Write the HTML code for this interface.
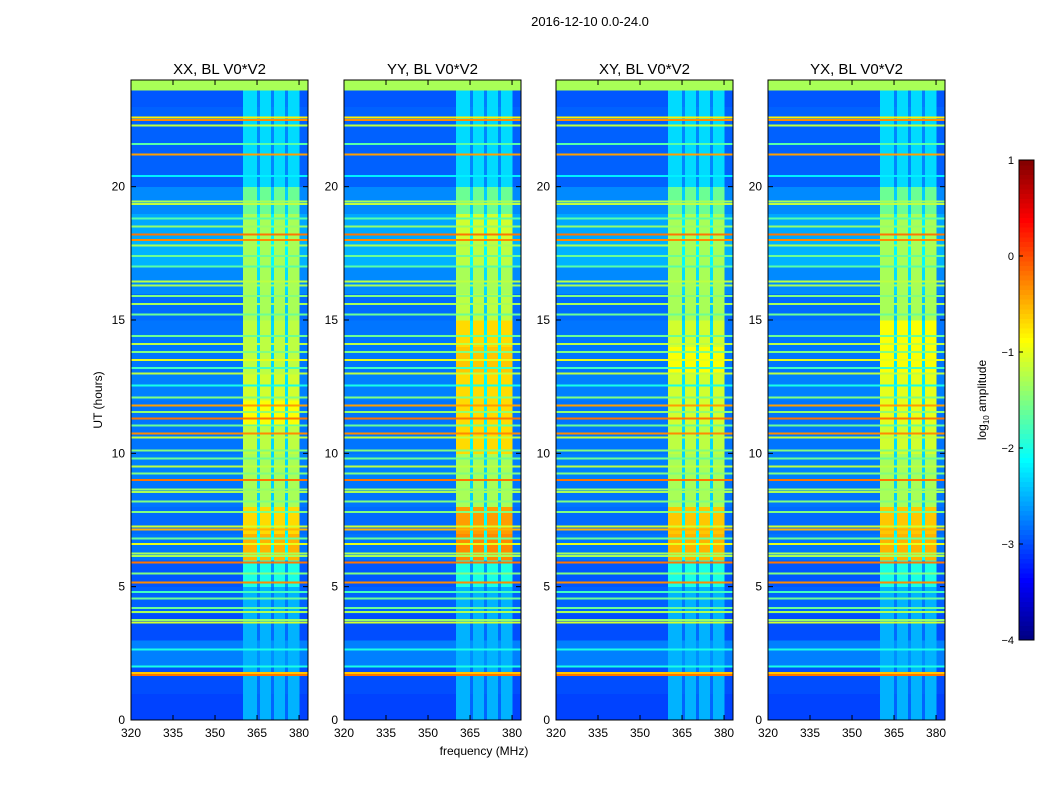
<!DOCTYPE html>
<html><head><meta charset="utf-8"><style>
body{margin:0;background:#fff;}
svg{display:block;font-family:"Liberation Sans",sans-serif;}
</style></head><body>
<svg id="chart" width="1050" height="800">
<text x="590" y="26" font-size="13" text-anchor="middle">2016-12-10 0.0-24.0</text>
</svg>
<script>
// ---- data ----
const panelTitles = ["XX, BL V0*V2","YY, BL V0*V2","XY, BL V0*V2","YX, BL V0*V2"];
const xTicks = [320,335,350,365,380];
const yTicks = [0,5,10,15,20];
const cbTicks = [1,0,-1,-2,-3,-4];
// background log10 amplitude per hour (0..24 h)
const baseHours = [-3.05,-3.0,-2.75,-3.0,-2.9,-2.95,-2.8,-2.85,-2.8,-2.75,-2.8,-2.8,-2.75,-2.8,-2.8,-2.85,-2.7,-2.5,-2.55,-2.7,-2.9,-2.9,-2.9,-2.95];
// narrow RFI lines: hour and level
const lineHours  = [1.68,1.76,2.0,2.65,3.65,3.75,4.05,4.2,4.55,4.8,5.15,5.5,5.9,6.15,6.25,6.6,6.8,7.15,7.25,7.8,8.2,8.55,8.65,9.0,9.25,9.5,9.8,10.1,10.6,10.75,11.05,11.3,11.55,11.8,12.1,12.55,13.0,13.2,13.5,13.8,14.1,14.4,15.2,15.6,15.9,16.3,16.45,17.0,17.4,17.8,18.0,18.2,18.5,18.8,19.35,19.45,20.4,21.2,21.6,22.3,22.5,22.6,23.8,23.9];
const lineValues = [-0.2,-0.6,-2.0,-2.0,-1.1,-1.4,-1.3,-1.6,-1.6,-1.8,-0.3,-1.5,-0.2,-1.3,-1.3,-1.0,-1.6,-0.5,-1.1,-1.5,-1.5,-1.3,-1.4,-0.2,-1.5,-1.2,-1.6,-1.5,-1.2,-0.3,-1.6,-0.2,-1.4,-0.4,-1.5,-2.0,-1.2,-1.8,-1.0,-1.5,-1.2,-1.6,-1.6,-1.3,-1.5,-1.3,-1.2,-1.7,-1.6,-1.3,-0.3,-0.2,-1.4,-1.7,-1.2,-1.3,-2.2,-0.4,-1.7,-1.2,-0.3,-0.8,-1.3,-1.3];
// band (360-380 MHz) intensity per hour, per polarisation
const bandXX = [-2.5,-2.5,-2.5,-2.5,-2.5,-2.0,-0.5,-0.7,-1.3,-1.3,-1.2,-0.9,-1.1,-1.2,-1.2,-1.3,-1.3,-1.3,-1.3,-1.6,-2.3,-2.3,-2.3,-2.3];
const bandYY = [-2.5,-2.5,-2.5,-2.5,-2.5,-2.0,-0.3,-0.4,-1.3,-1.3,-0.7,-0.7,-0.7,-0.6,-0.7,-1.2,-1.3,-1.2,-1.1,-1.6,-2.3,-2.3,-2.3,-2.3];
const bandXY = [-2.5,-2.5,-2.5,-2.5,-2.5,-2.0,-0.5,-0.6,-1.3,-1.3,-1.2,-1.1,-1.1,-0.9,-1.1,-1.3,-1.3,-1.3,-1.3,-1.6,-2.3,-2.3,-2.3,-2.3];
const bandYX = [-2.5,-2.5,-2.5,-2.5,-2.5,-2.0,-0.5,-0.6,-1.3,-1.3,-1.1,-1.0,-1.0,-0.9,-0.9,-1.3,-1.3,-1.3,-1.3,-1.6,-2.3,-2.3,-2.3,-2.3];
// 1-MHz channel weights starting at 360 MHz
const bandMask = [1,1,1,1,1,0.3,1,1,1,1,0.3,1,1,1,1,0.3,1,1,1,1];
const bandStart = 360;

const NS="http://www.w3.org/2000/svg";
const svg=document.getElementById('chart');
function mk(t,a,p){const e=document.createElementNS(NS,t);for(const k in a)e.setAttribute(k,a[k]);(p||svg).appendChild(e);return e;}
function jet(v){let t=(v+4)/5;t=Math.max(0,Math.min(1,t));
 const c=x=>Math.round(255*Math.max(0,Math.min(1,x)));
 const r=c(Math.min(4*t-1.5,-4*t+4.5)),g=c(Math.min(4*t-0.5,-4*t+3.5)),b=c(Math.min(4*t+0.5,-4*t+2.5));
 return `rgb(${r},${g},${b})`;}
const panelX=[131,344,556,768], PW=177, PT=80, PB=720;
const fMin=320,fMax=383.2,tMax=24;
const bands=[bandXX,bandYY,bandXY,bandYX];
panelTitles.forEach((title,p)=>{
 const x0=panelX[p];
 const xs=f=>x0+(f-fMin)/(fMax-fMin)*PW;
 const ys=h=>PB-h/tMax*(PB-PT);
 const g=mk('g',{'shape-rendering':'crispEdges'});
 
 
 baseHours.forEach((v,i)=>{
  const r=mk('rect',{x:xs(fMin),y:ys(i+1),width:xs(fMax)-xs(fMin),height:ys(i)-ys(i+1)+0.5,fill:jet(v)},g);
  
  
 });
 const band=bands[p];
 band.forEach((b,i)=>{
  const v=baseHours[i];
  bandMask.forEach((m,j)=>{
   const val=v+m*(b-v);
   const r=mk('rect',{x:xs(bandStart+j),y:ys(i+1),width:xs(bandStart+j+1)-xs(bandStart+j)+0.3,height:ys(i)-ys(i+1)+0.5,fill:jet(val)},g);
   
   
  });
 });
 lineHours.forEach((h,k)=>{
  const l=mk('rect',{x:xs(fMin),y:ys(h)-1,width:xs(fMax)-xs(fMin),height:2,fill:jet(lineValues[k])},g);
  
  
 });
 const top=mk('rect',{x:x0,y:PT,width:PW,height:ys(23.6)-PT,fill:jet(-1.3)},g);
 
 
 const fr=mk('rect',{x:x0,y:PT,width:PW,height:PB-PT,fill:'none',stroke:'#000','stroke-width':1});
 
 
 const tt=mk('text',{x:x0+PW/2,y:PT-6,'font-size':15,'text-anchor':'middle'});tt.textContent=title;
 
 
 xTicks.forEach(f=>{const X=xs(f);mk('line',{x1:X,x2:X,y1:PB,y2:PB-5,stroke:'#000'});mk('line',{x1:X,x2:X,y1:PT,y2:PT+5,stroke:'#000'});
  const t=mk('text',{x:X,y:PB+17,'font-size':12,'text-anchor':'middle'});t.textContent=f;
  
  });
 yTicks.forEach(h=>{const Y=ys(h);mk('line',{x1:x0,x2:x0+5,y1:Y,y2:Y,stroke:'#000'});mk('line',{x1:x0+PW,x2:x0+PW-5,y1:Y,y2:Y,stroke:'#000'});
  const t=mk('text',{x:x0-6,y:Y+4,'font-size':12,'text-anchor':'end'});t.textContent=h;
  
  });
});
const xl=mk('text',{x:484,y:755,'font-size':12,'text-anchor':'middle'});xl.textContent='frequency (MHz)';


const yl=mk('text',{x:102,y:400,'font-size':12,'text-anchor':'middle',transform:'rotate(-90 102 400)'});yl.textContent='UT (hours)';


// colorbar
const cbX=1019,cbW=15,cbT=160,cbB=640;
const cy=v=>cbB-(v+4)/5*(cbB-cbT);
const cg=mk('g',{'shape-rendering':'crispEdges'});


for(let k=0;k<100;k++){const v0=-4+k*0.05;mk('rect',{x:cbX,y:cy(v0+0.05),width:cbW,height:cy(v0)-cy(v0+0.05)+0.5,fill:jet(v0+0.025)},cg);}
mk('rect',{x:cbX,y:cbT,width:cbW,height:cbB-cbT,fill:'none',stroke:'#000'});
cbTicks.forEach(v=>{const Y=cy(v);mk('line',{x1:cbX,x2:cbX+4,y1:Y,y2:Y,stroke:'#000'});
 const t=mk('text',{x:cbX-5,y:Y+4,'font-size':11,'text-anchor':'end'});t.textContent=v<0?'\u2212'+(-v):v;
 
 });
const cl=mk('text',{x:986,y:400,'font-size':12,'text-anchor':'middle',transform:'rotate(-90 986 400)'});
cl.innerHTML='log<tspan font-size="8" dy="3">10</tspan><tspan dy="-3"> amplitude</tspan>';


</script>
</body></html>
